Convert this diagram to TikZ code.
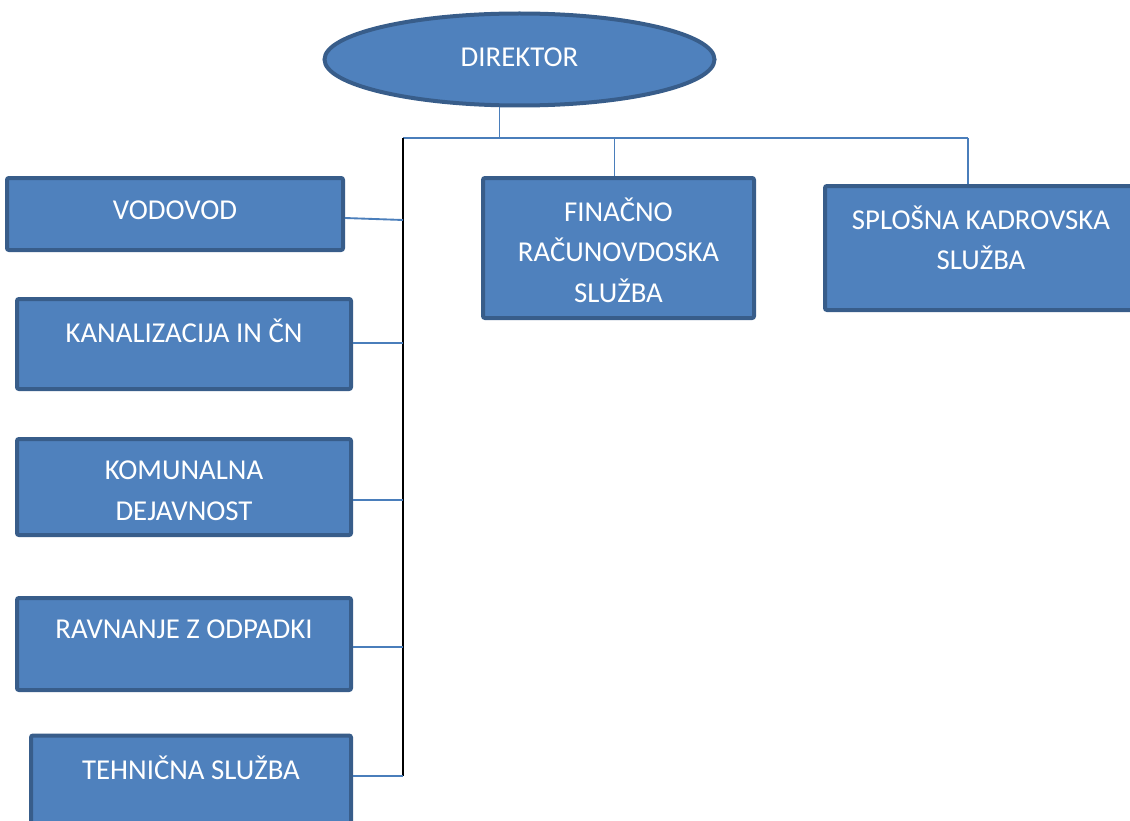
\documentclass[tikz,border=0pt]{standalone}
\usepackage{fontspec}
\setmainfont{Carlito}
\usetikzlibrary{shapes.geometric,calc}
\definecolor{boxfill}{HTML}{4F81BD}
\definecolor{boxline}{HTML}{385D8A}
\definecolor{conn}{HTML}{4A7EBB}
\tikzset{
  unit/.style={x=0.75pt,y=-0.75pt},
  orgbox/.style={rectangle,draw=boxline,fill=boxfill,line width=3pt,rounded corners=1.5pt,inner sep=0pt},
  boxtext/.style={text=white,align=center,font=\fontsize{21.6}{30.4}\selectfont,inner sep=0pt},
  link/.style={draw=conn,line width=1.4pt},
  spine/.style={draw=black,line width=1.5pt}
}
\begin{document}
\begin{tikzpicture}[unit]
\clip (0,0) rectangle (1130,820);
\fill[white] (0,0) rectangle (1130,820);
% director
\node[ellipse,draw=boxline,fill=boxfill,line width=3pt,minimum width=390*0.75pt,minimum height=92*0.75pt,inner sep=0pt] (dir) at (519.5,59.5) {};
\node[boxtext] (dirt) at (519.5,57) {DIREKTOR};
% boxes
\node[orgbox,minimum width=336*0.75pt,minimum height=72*0.75pt] (vod) at (175,214) {};
\node[orgbox,minimum width=334*0.75pt,minimum height=90*0.75pt] (kan) at (184,344) {};
\node[orgbox,minimum width=334*0.75pt,minimum height=96*0.75pt] (kom) at (184,487) {};
\node[orgbox,minimum width=334*0.75pt,minimum height=92*0.75pt] (rav) at (184,644) {};
\node[orgbox,minimum width=320*0.75pt,minimum height=95*0.75pt] (teh) at (191,783) {};
\node[orgbox,minimum width=271*0.75pt,minimum height=140*0.75pt] (fin) at (618.5,248) {};
\node[orgbox,minimum width=312*0.75pt,minimum height=124*0.75pt] (spl) at (981,248) {};
% texts
\node[boxtext] (vodt) at (175,210) {VODOVOD};
\node[boxtext] (kant) at (184,331) {KANALIZACIJA IN ČN};
\node[boxtext] (komt) at (184,491) {KOMUNALNA\\DEJAVNOST};
\node[boxtext] (ravt) at (184,629) {RAVNANJE Z ODPADKI};
\node[boxtext] (teht) at (191,768) {TEHNIČNA SLUŽBA};
\node[boxtext] (fint) at (618.5,250) {FINAČNO\\RAČUNOVDOSKA\\SLUŽBA};
\node[boxtext] (splt) at (981,238) {SPLOŠNA KADROVSKA\\SLUŽBA};
% junctions
\coordinate (jl) at (403,138);
\coordinate (jr) at (968,138);
\coordinate (jb) at (403,776);
\coordinate (dc) at ($(dir.south)+(-20,0)$);
\coordinate (fc) at ($(fin.north)+(-4,0)$);
% connectors
\draw[link] (dc) -- (dc |- jl);
\draw[link] (jl) -- (jr);
\draw[link] (fc) -- (fc |- jl);
\draw[link] (jr) -- (jr |- spl.north);
\draw[spine] (jl) -- (jb);
\draw[link] ($(vod.east)+(0,4)$) -- ($(vod.east -| jl)+(0,6)$);
\draw[link] ($(kan.east)+(0,-1)$) -- ($(kan.east -| jl)+(0,-1)$);
\draw[link] ($(kom.east)+(0,13)$) -- ($(kom.east -| jl)+(0,13)$);
\draw[link] ($(rav.east)+(0,3)$) -- ($(rav.east -| jl)+(0,3)$);
\draw[link] ($(teh.east)+(0,-7)$) -- (jb);
\end{tikzpicture}
\end{document}
